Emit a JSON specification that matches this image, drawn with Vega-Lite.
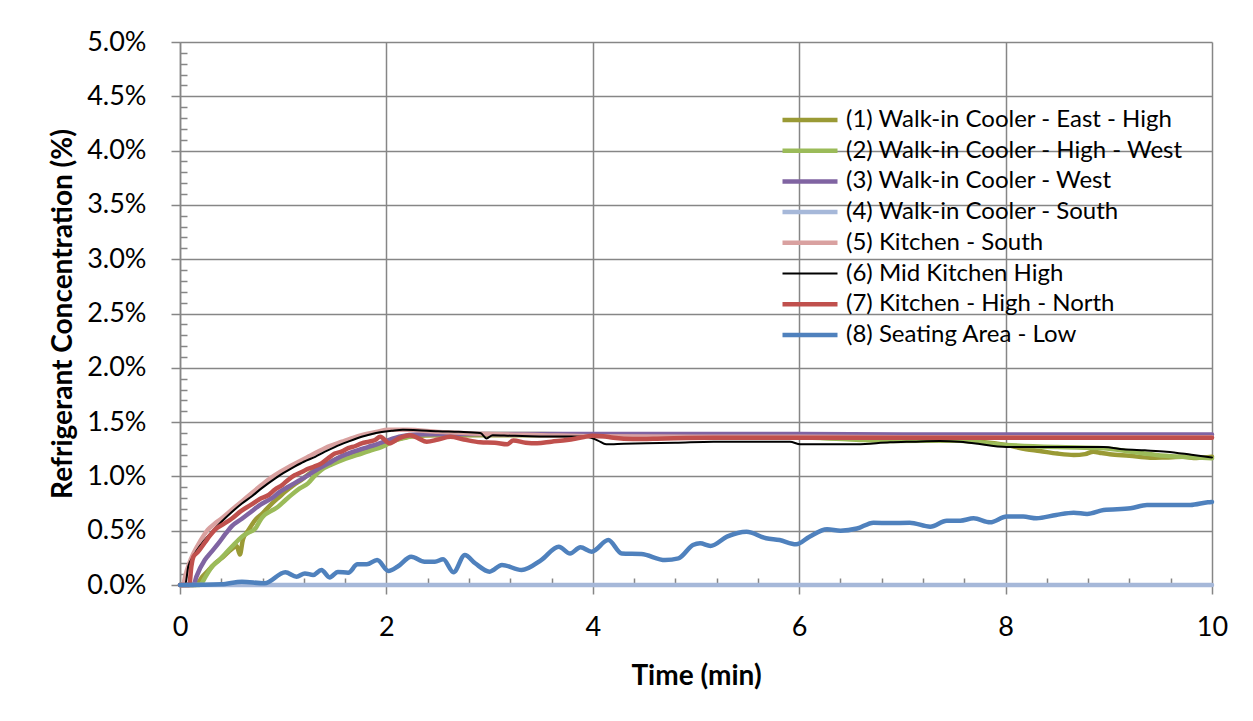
{
  "$schema": "https://vega.github.io/schema/vega-lite/v6.json",
  "width": 1032,
  "height": 543,
  "autosize": {"type": "none"},
  "padding": {"left": 180, "top": 42, "right": 41, "bottom": 136},
  "background": "white",
  "config": {
    "font": "Lato",
    "view": {"stroke": null},
    "axis": {
      "domainColor": "#868686",
      "domainWidth": 1.5,
      "gridColor": "#868686",
      "gridWidth": 1.5,
      "tickColor": "#868686",
      "tickWidth": 1.5,
      "labelColor": "#000000",
      "titleColor": "#000000",
      "labelFont": "Lato",
      "titleFont": "Lato",
      "labelFontSize": 27,
      "titleFontSize": 28,
      "titleFontWeight": "bold",
      "labelOverlap": false,
      "labelFlush": false
    }
  },
  "datasets": {
    "series": [
      {"id": 1, "name": "(1) Walk-in Cooler - East - High"},
      {"id": 2, "name": "(2) Walk-in Cooler - High - West"},
      {"id": 3, "name": "(3) Walk-in Cooler - West"},
      {"id": 4, "name": "(4) Walk-in Cooler - South"},
      {"id": 5, "name": "(5) Kitchen - South"},
      {"id": 6, "name": "(6) Mid Kitchen High"},
      {"id": 7, "name": "(7) Kitchen - High - North"},
      {"id": 8, "name": "(8) Seating Area - Low"}
    ],
    "obs": [
      {"id":1,"t":0,"v":0},{"id":1,"t":0.15,"v":0},{"id":1,"t":0.22,"v":0.08},{"id":1,"t":0.3,"v":0.16},{"id":1,"t":0.34,"v":0.2},{"id":1,"t":0.42,"v":0.26},{"id":1,"t":0.5,"v":0.33},{"id":1,"t":0.55,"v":0.36},{"id":1,"t":0.58,"v":0.28},{"id":1,"t":0.61,"v":0.42},{"id":1,"t":0.66,"v":0.5},{"id":1,"t":0.73,"v":0.6},{"id":1,"t":0.8,"v":0.66},{"id":1,"t":0.89,"v":0.75},{"id":1,"t":0.95,"v":0.8},{"id":1,"t":1.02,"v":0.86},{"id":1,"t":1.1,"v":0.92},{"id":1,"t":1.18,"v":0.97},{"id":1,"t":1.26,"v":1.03},{"id":1,"t":1.34,"v":1.075},{"id":1,"t":1.43,"v":1.12},{"id":1,"t":1.53,"v":1.167},{"id":1,"t":1.64,"v":1.21},{"id":1,"t":1.76,"v":1.243},{"id":1,"t":1.88,"v":1.28},{"id":1,"t":1.99,"v":1.31},{"id":1,"t":2.1,"v":1.34},{"id":1,"t":2.25,"v":1.37},{"id":1,"t":2.5,"v":1.38},{"id":1,"t":3,"v":1.38},{"id":1,"t":3.5,"v":1.38},{"id":1,"t":4,"v":1.38},{"id":1,"t":4.5,"v":1.375},{"id":1,"t":5,"v":1.37},{"id":1,"t":5.5,"v":1.365},{"id":1,"t":6,"v":1.36},{"id":1,"t":6.5,"v":1.35},{"id":1,"t":7,"v":1.335},{"id":1,"t":7.5,"v":1.33},{"id":1,"t":8,"v":1.29},{"id":1,"t":8.2,"v":1.25},{"id":1,"t":8.33,"v":1.234},{"id":1,"t":8.5,"v":1.21},{"id":1,"t":8.66,"v":1.197},{"id":1,"t":8.77,"v":1.205},{"id":1,"t":8.85,"v":1.228},{"id":1,"t":8.93,"v":1.215},{"id":1,"t":9.01,"v":1.203},{"id":1,"t":9.2,"v":1.19},{"id":1,"t":9.4,"v":1.172},{"id":1,"t":9.55,"v":1.175},{"id":1,"t":9.72,"v":1.18},{"id":1,"t":9.85,"v":1.17},{"id":1,"t":10,"v":1.18},
      {"id":2,"t":0,"v":0},{"id":2,"t":0.19,"v":0},{"id":2,"t":0.25,"v":0.08},{"id":2,"t":0.31,"v":0.17},{"id":2,"t":0.38,"v":0.23},{"id":2,"t":0.44,"v":0.29},{"id":2,"t":0.52,"v":0.37},{"id":2,"t":0.6,"v":0.445},{"id":2,"t":0.66,"v":0.48},{"id":2,"t":0.73,"v":0.52},{"id":2,"t":0.78,"v":0.6},{"id":2,"t":0.82,"v":0.645},{"id":2,"t":0.88,"v":0.68},{"id":2,"t":0.95,"v":0.72},{"id":2,"t":1.02,"v":0.78},{"id":2,"t":1.08,"v":0.83},{"id":2,"t":1.16,"v":0.89},{"id":2,"t":1.24,"v":0.936},{"id":2,"t":1.3,"v":1.0},{"id":2,"t":1.37,"v":1.06},{"id":2,"t":1.47,"v":1.11},{"id":2,"t":1.57,"v":1.15},{"id":2,"t":1.66,"v":1.18},{"id":2,"t":1.76,"v":1.21},{"id":2,"t":1.85,"v":1.24},{"id":2,"t":1.95,"v":1.27},{"id":2,"t":2.08,"v":1.33},{"id":2,"t":2.2,"v":1.36},{"id":2,"t":2.4,"v":1.385},{"id":2,"t":3,"v":1.39},{"id":2,"t":3.5,"v":1.39},{"id":2,"t":4,"v":1.385},{"id":2,"t":4.5,"v":1.38},{"id":2,"t":5,"v":1.375},{"id":2,"t":5.5,"v":1.37},{"id":2,"t":6,"v":1.36},{"id":2,"t":6.5,"v":1.34},{"id":2,"t":6.9,"v":1.326},{"id":2,"t":7.5,"v":1.33},{"id":2,"t":8,"v":1.29},{"id":2,"t":8.5,"v":1.27},{"id":2,"t":8.95,"v":1.26},{"id":2,"t":9.2,"v":1.23},{"id":2,"t":9.46,"v":1.197},{"id":2,"t":9.7,"v":1.18},{"id":2,"t":10,"v":1.166},
      {"id":3,"t":0,"v":0},{"id":3,"t":0.13,"v":0},{"id":3,"t":0.16,"v":0.08},{"id":3,"t":0.24,"v":0.23},{"id":3,"t":0.3,"v":0.3},{"id":3,"t":0.37,"v":0.38},{"id":3,"t":0.44,"v":0.47},{"id":3,"t":0.5,"v":0.54},{"id":3,"t":0.6,"v":0.61},{"id":3,"t":0.69,"v":0.675},{"id":3,"t":0.78,"v":0.74},{"id":3,"t":0.89,"v":0.8},{"id":3,"t":0.97,"v":0.86},{"id":3,"t":1.05,"v":0.905},{"id":3,"t":1.15,"v":0.96},{"id":3,"t":1.24,"v":1.01},{"id":3,"t":1.34,"v":1.07},{"id":3,"t":1.44,"v":1.12},{"id":3,"t":1.53,"v":1.17},{"id":3,"t":1.63,"v":1.21},{"id":3,"t":1.72,"v":1.24},{"id":3,"t":1.82,"v":1.27},{"id":3,"t":1.92,"v":1.3},{"id":3,"t":2.02,"v":1.335},{"id":3,"t":2.15,"v":1.37},{"id":3,"t":2.3,"v":1.385},{"id":3,"t":2.6,"v":1.39},{"id":3,"t":3,"v":1.39},{"id":3,"t":4,"v":1.39},{"id":3,"t":5,"v":1.39},{"id":3,"t":6,"v":1.39},{"id":3,"t":7,"v":1.385},{"id":3,"t":8,"v":1.385},{"id":3,"t":9,"v":1.385},{"id":3,"t":10,"v":1.385},
      {"id":4,"t":0,"v":0},{"id":4,"t":2,"v":0},{"id":4,"t":4,"v":0},{"id":4,"t":6,"v":0},{"id":4,"t":8,"v":0},{"id":4,"t":10,"v":0},
      {"id":5,"t":0,"v":0},{"id":5,"t":0.03,"v":0},{"id":5,"t":0.05,"v":0.08},{"id":5,"t":0.09,"v":0.2},{"id":5,"t":0.13,"v":0.29},{"id":5,"t":0.2,"v":0.41},{"id":5,"t":0.27,"v":0.51},{"id":5,"t":0.33,"v":0.56},{"id":5,"t":0.4,"v":0.61},{"id":5,"t":0.5,"v":0.69},{"id":5,"t":0.6,"v":0.77},{"id":5,"t":0.7,"v":0.85},{"id":5,"t":0.79,"v":0.92},{"id":5,"t":0.87,"v":0.98},{"id":5,"t":0.95,"v":1.03},{"id":5,"t":1.05,"v":1.085},{"id":5,"t":1.15,"v":1.135},{"id":5,"t":1.25,"v":1.185},{"id":5,"t":1.34,"v":1.23},{"id":5,"t":1.45,"v":1.28},{"id":5,"t":1.57,"v":1.32},{"id":5,"t":1.66,"v":1.35},{"id":5,"t":1.76,"v":1.38},{"id":5,"t":1.9,"v":1.41},{"id":5,"t":2.02,"v":1.43},{"id":5,"t":2.2,"v":1.43},{"id":5,"t":2.5,"v":1.41},{"id":5,"t":3,"v":1.39},{"id":5,"t":3.5,"v":1.38},{"id":5,"t":4,"v":1.37},{"id":5,"t":5,"v":1.365},{"id":5,"t":6,"v":1.365},{"id":5,"t":7,"v":1.36},{"id":5,"t":8,"v":1.36},{"id":5,"t":9,"v":1.36},{"id":5,"t":10,"v":1.36},
      {"id":6,"t":0,"v":0},{"id":6,"t":0.05,"v":0},{"id":6,"t":0.08,"v":0.17},{"id":6,"t":0.12,"v":0.25},{"id":6,"t":0.21,"v":0.38},{"id":6,"t":0.3,"v":0.48},{"id":6,"t":0.4,"v":0.58},{"id":6,"t":0.5,"v":0.67},{"id":6,"t":0.6,"v":0.75},{"id":6,"t":0.7,"v":0.82},{"id":6,"t":0.79,"v":0.89},{"id":6,"t":0.92,"v":0.98},{"id":6,"t":1.0,"v":1.03},{"id":6,"t":1.11,"v":1.09},{"id":6,"t":1.2,"v":1.135},{"id":6,"t":1.31,"v":1.18},{"id":6,"t":1.4,"v":1.225},{"id":6,"t":1.5,"v":1.27},{"id":6,"t":1.63,"v":1.32},{"id":6,"t":1.76,"v":1.365},{"id":6,"t":1.9,"v":1.4},{"id":6,"t":2.05,"v":1.42},{"id":6,"t":2.16,"v":1.43},{"id":6,"t":2.3,"v":1.425},{"id":6,"t":2.5,"v":1.415},{"id":6,"t":2.7,"v":1.41},{"id":6,"t":2.91,"v":1.4},{"id":6,"t":2.97,"v":1.35},{"id":6,"t":3.03,"v":1.38},{"id":6,"t":3.2,"v":1.375},{"id":6,"t":3.39,"v":1.37},{"id":6,"t":3.7,"v":1.367},{"id":6,"t":3.94,"v":1.365},{"id":6,"t":4.05,"v":1.33},{"id":6,"t":4.13,"v":1.295},{"id":6,"t":4.3,"v":1.3},{"id":6,"t":4.52,"v":1.305},{"id":6,"t":4.8,"v":1.31},{"id":6,"t":5.17,"v":1.32},{"id":6,"t":5.5,"v":1.32},{"id":6,"t":5.91,"v":1.32},{"id":6,"t":6.01,"v":1.295},{"id":6,"t":6.3,"v":1.295},{"id":6,"t":6.56,"v":1.295},{"id":6,"t":6.88,"v":1.314},{"id":6,"t":7.1,"v":1.32},{"id":6,"t":7.36,"v":1.326},{"id":6,"t":7.55,"v":1.32},{"id":6,"t":7.69,"v":1.305},{"id":6,"t":8.01,"v":1.27},{"id":6,"t":8.49,"v":1.27},{"id":6,"t":8.95,"v":1.27},{"id":6,"t":9.14,"v":1.25},{"id":6,"t":9.35,"v":1.24},{"id":6,"t":9.56,"v":1.228},{"id":6,"t":9.8,"v":1.2},{"id":6,"t":10,"v":1.175},
      {"id":7,"t":0,"v":0},{"id":7,"t":0.09,"v":0},{"id":7,"t":0.11,"v":0.17},{"id":7,"t":0.13,"v":0.26},{"id":7,"t":0.17,"v":0.3},{"id":7,"t":0.21,"v":0.35},{"id":7,"t":0.27,"v":0.43},{"id":7,"t":0.34,"v":0.51},{"id":7,"t":0.42,"v":0.56},{"id":7,"t":0.5,"v":0.61},{"id":7,"t":0.59,"v":0.68},{"id":7,"t":0.69,"v":0.74},{"id":7,"t":0.77,"v":0.79},{"id":7,"t":0.86,"v":0.83},{"id":7,"t":0.92,"v":0.88},{"id":7,"t":0.99,"v":0.92},{"id":7,"t":1.05,"v":0.97},{"id":7,"t":1.11,"v":1.01},{"id":7,"t":1.18,"v":1.04},{"id":7,"t":1.24,"v":1.07},{"id":7,"t":1.3,"v":1.09},{"id":7,"t":1.37,"v":1.12},{"id":7,"t":1.44,"v":1.17},{"id":7,"t":1.5,"v":1.21},{"id":7,"t":1.57,"v":1.23},{"id":7,"t":1.63,"v":1.26},{"id":7,"t":1.7,"v":1.28},{"id":7,"t":1.76,"v":1.305},{"id":7,"t":1.83,"v":1.32},{"id":7,"t":1.89,"v":1.335},{"id":7,"t":1.94,"v":1.365},{"id":7,"t":2.03,"v":1.305},{"id":7,"t":2.12,"v":1.35},{"id":7,"t":2.23,"v":1.38},{"id":7,"t":2.31,"v":1.35},{"id":7,"t":2.39,"v":1.32},{"id":7,"t":2.5,"v":1.34},{"id":7,"t":2.62,"v":1.365},{"id":7,"t":2.75,"v":1.34},{"id":7,"t":2.91,"v":1.314},{"id":7,"t":3.05,"v":1.31},{"id":7,"t":3.17,"v":1.295},{"id":7,"t":3.23,"v":1.33},{"id":7,"t":3.35,"v":1.31},{"id":7,"t":3.46,"v":1.305},{"id":7,"t":3.6,"v":1.32},{"id":7,"t":3.75,"v":1.335},{"id":7,"t":3.9,"v":1.36},{"id":7,"t":4.0,"v":1.375},{"id":7,"t":4.1,"v":1.37},{"id":7,"t":4.2,"v":1.356},{"id":7,"t":4.39,"v":1.344},{"id":7,"t":4.7,"v":1.35},{"id":7,"t":5.17,"v":1.356},{"id":7,"t":6,"v":1.356},{"id":7,"t":7,"v":1.356},{"id":7,"t":8,"v":1.356},{"id":7,"t":9,"v":1.356},{"id":7,"t":10,"v":1.356},
      {"id":8,"t":0,"v":0},{"id":8,"t":0.4,"v":0.006},{"id":8,"t":0.6,"v":0.03},{"id":8,"t":0.82,"v":0.015},{"id":8,"t":1.02,"v":0.117},{"id":8,"t":1.13,"v":0.077},{"id":8,"t":1.21,"v":0.107},{"id":8,"t":1.29,"v":0.092},{"id":8,"t":1.37,"v":0.138},{"id":8,"t":1.45,"v":0.07},{"id":8,"t":1.53,"v":0.12},{"id":8,"t":1.63,"v":0.113},{"id":8,"t":1.72,"v":0.19},{"id":8,"t":1.81,"v":0.19},{"id":8,"t":1.91,"v":0.23},{"id":8,"t":2.02,"v":0.13},{"id":8,"t":2.11,"v":0.17},{"id":8,"t":2.24,"v":0.26},{"id":8,"t":2.37,"v":0.215},{"id":8,"t":2.47,"v":0.215},{"id":8,"t":2.55,"v":0.237},{"id":8,"t":2.65,"v":0.117},{"id":8,"t":2.76,"v":0.276},{"id":8,"t":2.86,"v":0.2},{"id":8,"t":3.0,"v":0.123},{"id":8,"t":3.12,"v":0.184},{"id":8,"t":3.31,"v":0.138},{"id":8,"t":3.5,"v":0.23},{"id":8,"t":3.67,"v":0.353},{"id":8,"t":3.78,"v":0.29},{"id":8,"t":3.88,"v":0.347},{"id":8,"t":3.99,"v":0.307},{"id":8,"t":4.15,"v":0.414},{"id":8,"t":4.28,"v":0.29},{"id":8,"t":4.47,"v":0.285},{"id":8,"t":4.7,"v":0.23},{"id":8,"t":4.83,"v":0.245},{"id":8,"t":4.97,"v":0.368},{"id":8,"t":5.04,"v":0.384},{"id":8,"t":5.14,"v":0.36},{"id":8,"t":5.3,"v":0.445},{"id":8,"t":5.49,"v":0.49},{"id":8,"t":5.68,"v":0.43},{"id":8,"t":5.81,"v":0.414},{"id":8,"t":5.97,"v":0.375},{"id":8,"t":6.1,"v":0.445},{"id":8,"t":6.27,"v":0.513},{"id":8,"t":6.4,"v":0.5},{"id":8,"t":6.56,"v":0.52},{"id":8,"t":6.72,"v":0.574},{"id":8,"t":6.88,"v":0.57},{"id":8,"t":7.07,"v":0.574},{"id":8,"t":7.27,"v":0.537},{"id":8,"t":7.43,"v":0.592},{"id":8,"t":7.56,"v":0.592},{"id":8,"t":7.69,"v":0.614},{"id":8,"t":7.85,"v":0.577},{"id":8,"t":8.01,"v":0.63},{"id":8,"t":8.17,"v":0.63},{"id":8,"t":8.3,"v":0.614},{"id":8,"t":8.49,"v":0.645},{"id":8,"t":8.66,"v":0.666},{"id":8,"t":8.79,"v":0.654},{"id":8,"t":8.95,"v":0.69},{"id":8,"t":9.21,"v":0.706},{"id":8,"t":9.37,"v":0.737},{"id":8,"t":9.63,"v":0.737},{"id":8,"t":9.79,"v":0.737},{"id":8,"t":9.96,"v":0.762},{"id":8,"t":10,"v":0.765}
    ]
  },
  "data": {"name": "obs"},
  "transform": [
    {"lookup": "id", "from": {"data": {"name": "series"}, "key": "id", "fields": ["name"]}}
  ],
  "mark": {"type": "line", "interpolate": "monotone", "strokeCap": "round", "strokeJoin": "round"},
  "encoding": {
    "x": {
      "field": "t",
      "type": "quantitative",
      "scale": {"domain": [0, 10], "nice": false},
      "axis": {
        "title": "Time (min)",
        "values": [0,0.4,0.8,1.2,1.6,2,2.4,2.8,3.2,3.6,4,4.4,4.8,5.2,5.6,6,6.4,6.8,7.2,7.6,8,8.4,8.8,9.2,9.6,10],
        "labelExpr": "abs(datum.value/2-round(datum.value/2))<0.001 ? format(datum.value,'d') : ''",
        "gridOpacity": {"condition": {"test": "abs(datum.value/2-round(datum.value/2))<0.001", "value": 1}, "value": 0},
        "tickSize": {"condition": {"test": "abs(datum.value/2-round(datum.value/2))<0.001", "value": 9}, "value": -7},
        "labelPadding": 20,
        "titlePadding": 22
      }
    },
    "y": {
      "field": "v",
      "type": "quantitative",
      "scale": {"domain": [0, 5], "nice": false},
      "axis": {
        "title": "Refrigerant Concentration (%)",
        "values": [0,0.1,0.2,0.3,0.4,0.5,0.6,0.7,0.8,0.9,1,1.1,1.2,1.3,1.4,1.5,1.6,1.7,1.8,1.9,2,2.1,2.2,2.3,2.4,2.5,2.6,2.7,2.8,2.9,3,3.1,3.2,3.3,3.4,3.5,3.6,3.7,3.8,3.9,4,4.1,4.2,4.3,4.4,4.5,4.6,4.7,4.8,4.9,5],
        "labelExpr": "abs(datum.value*2-round(datum.value*2))<0.001 ? format(datum.value,'.1f') + '%' : ''",
        "gridOpacity": {"condition": {"test": "abs(datum.value*2-round(datum.value*2))<0.001", "value": 1}, "value": 0},
        "tickSize": {"condition": {"test": "abs(datum.value*2-round(datum.value*2))<0.001", "value": 9}, "value": -7},
        "labelPadding": 25,
        "titlePadding": 9
      }
    },
    "color": {
      "field": "name",
      "type": "nominal",
      "scale": {
        "domain": ["(1) Walk-in Cooler - East - High","(2) Walk-in Cooler - High - West","(3) Walk-in Cooler - West","(4) Walk-in Cooler - South","(5) Kitchen - South","(6) Mid Kitchen High","(7) Kitchen - High - North","(8) Seating Area - Low"],
        "range": ["#9A9A35","#9BBB59","#8064A2","#A6B8D9","#D9A1A0","#000000","#C0504D","#4F81BD"]
      },
      "legend": {
        "title": null,
        "orient": "none",
        "legendX": 600,
        "legendY": 67,
        "padding": 0,
        "symbolType": "stroke",
        "symbolSize": 3025,
        "clipHeight": 22,
        "labelFont": "Lato",
        "labelFontSize": 24,
        "labelColor": "#000000",
        "labelOffset": 6,
        "rowPadding": 6.7,
        "labelLimit": 500
      }
    },
    "strokeWidth": {
      "field": "name",
      "type": "nominal",
      "scale": {
        "type": "ordinal",
        "domain": ["(1) Walk-in Cooler - East - High","(2) Walk-in Cooler - High - West","(3) Walk-in Cooler - West","(4) Walk-in Cooler - South","(5) Kitchen - South","(6) Mid Kitchen High","(7) Kitchen - High - North","(8) Seating Area - Low"],
        "range": [4.5,4.5,4.5,4.5,4.5,2,4.5,4.5]
      },
      "legend": {
        "title": null,
        "orient": "none",
        "legendX": 600,
        "legendY": 67,
        "padding": 0,
        "symbolType": "stroke",
        "symbolSize": 3025,
        "clipHeight": 22,
        "labelFont": "Lato",
        "labelFontSize": 24,
        "labelColor": "#000000",
        "labelOffset": 6,
        "rowPadding": 6.7,
        "labelLimit": 500
      }
    }
  }
}
